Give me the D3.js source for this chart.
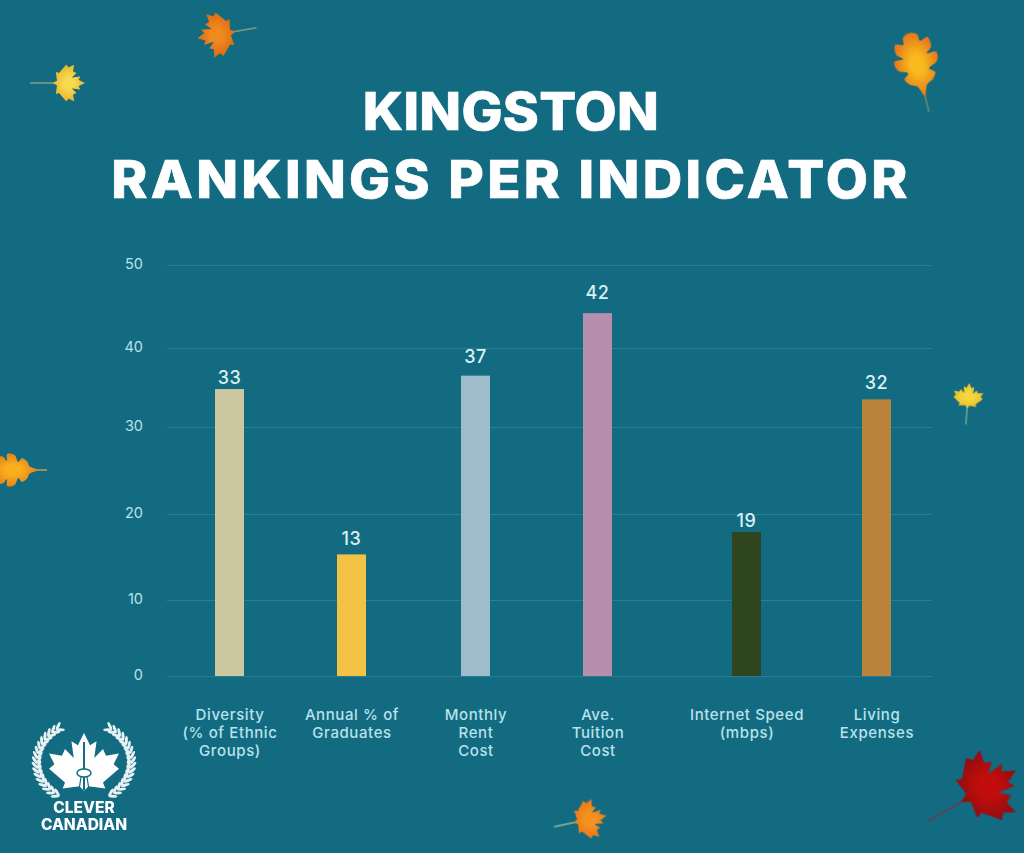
<!DOCTYPE html>
<html lang="en">
<head>
    <meta charset="UTF-8">
    <title>Kingston Rankings Per Indicator</title>
    <style>
        html, body { margin: 0; padding: 0; background: #126b81; }
        svg { display: block; }
        text { font-family: Inter, "Open Sans", sans-serif; }
    </style>
</head>
<body>
    <div id="chartContainer"></div>

    <script src="https://d3js.org/d3.v7.min.js"></script>
    <script>
        // Chart data
        const categories = [
            ["Diversity", "(% of Ethnic", "Groups)"],
            ["Annual % of", "Graduates"],
            ["Monthly", "Rent", "Cost"],
            ["Ave.", "Tuition", "Cost"],
            ["Internet Speed", "(mbps)"],
            ["Living", "Expenses"]
        ];
        const rankLabels = [33, 13, 37, 42, 19, 32];
        // bar heights as drawn, they do not quite agree with the printed ranks
        const barValues = [34.8, 15.3, 36.5, 44.2, 17.9, 33.5];
        const barColors = ["#cbc8a0", "#f2c244", "#9fbccb", "#b68fae", "#2f4520", "#bb843c"];
        const yTicks = [0, 10, 20, 30, 40, 50];

        const width = 1024, height = 853;
        const background = "#126b81", axisText = "#b9e2ea";

        const svg = d3.select("#chartContainer").append("svg")
            .attr("width", width)
            .attr("height", height);

        svg.append("rect").attr("width", width).attr("height", height).attr("fill", background);

        const defs = svg.append("defs");
        defs.append("filter").attr("id", "soft")
            .append("feGaussianBlur").attr("stdDeviation", 0.6);

        // Title, stretched a little since the original face is wider than Inter
        const title = svg.append("g")
            .attr("transform", "translate(511,0) scale(1.05,1)")
            .attr("fill", "#ffffff")
            .attr("stroke", "#ffffff")
            .attr("stroke-width", 0.7)
            .attr("font-weight", 800)
            .attr("font-size", 52)
            .attr("text-anchor", "middle");
        title.append("text").attr("y", 130).attr("letter-spacing", 0.3).text("KINGSTON");
        title.append("text").attr("y", 198).attr("letter-spacing", 3.2).text("RANKINGS PER INDICATOR");

        // The gridlines in the picture are not evenly spaced, so the scale is piecewise
        const y = d3.scaleLinear()
            .domain(yTicks)
            .range([676, 600, 514, 427, 348, 265]);

        // Same for the columns
        const x = d3.scaleLinear()
            .domain(d3.range(categories.length))
            .range([229.5, 351.5, 475.5, 597.5, 746.5, 876.5]);

        const barWidth = 29;
        const labelGaps = [5, 9, 13, 14, 5, 10];

        // Y axis with gridlines
        const yAxis = svg.append("g")
            .attr("transform", "translate(167,0)")
            .call(d3.axisLeft(y).tickValues(yTicks).tickSize(-765).tickPadding(24));
        yAxis.select(".domain").remove();
        yAxis.selectAll("line").attr("stroke", "#2b7e93").attr("stroke-width", 1.2);
        yAxis.selectAll("text")
            .attr("fill", axisText)
            .attr("font-size", 14.5)
            .attr("font-weight", 400)
            .attr("dy", "0.27em")
            .style("font-family", 'Inter, "Open Sans", sans-serif');

        // Bars
        svg.append("g").selectAll("rect")
            .data(barValues)
            .join("rect")
            .attr("x", (d, i) => x(i) - barWidth / 2)
            .attr("y", d => y(d))
            .attr("width", barWidth)
            .attr("height", d => y(0) - y(d))
            .attr("fill", (d, i) => barColors[i]);

        // Rank labels above the bars
        svg.append("g").selectAll("text")
            .data(barValues)
            .join("text")
            .attr("x", (d, i) => x(i))
            .attr("y", (d, i) => y(d) - labelGaps[i])
            .attr("text-anchor", "middle")
            .attr("fill", "#d8f0f4")
            .attr("font-size", 18)
            .attr("font-weight", 500)
            .attr("letter-spacing", 0.5)
            .text((d, i) => rankLabels[i]);

        // Category labels
        const xAxis = svg.append("g")
            .attr("transform", "translate(0,676)")
            .call(d3.axisBottom(x).tickValues(d3.range(categories.length)).tickSize(0).tickFormat(""));
        xAxis.select(".domain").remove();
        xAxis.selectAll("text")
            .attr("fill", axisText)
            .attr("font-size", 15)
            .attr("font-weight", 500)
            .attr("letter-spacing", 0.6)
            .attr("dy", null)
            .attr("y", null)
            .style("font-family", 'Inter, "Open Sans", sans-serif')
            .each(function(d) {
                d3.select(this).selectAll("tspan")
                    .data(categories[d])
                    .join("tspan")
                    .attr("x", 0)
                    .attr("y", (t, i) => 44 + i * 18)
                    .text(t => t);
            });

        // Decorative leaves, outlines in leaf units with the stem pointing down
        const mapleRight = [[0, -1], [.16, -.68], [.33, -.78], [.27, -.34], [.5, -.58], [.58, -.4],
            [.92, -.46], [.78, -.18], [.92, -.06], [.5, .3], [.56, .46], [.12, .4], [0, .62]];
        const mapleLeaf = mapleRight.concat(mapleRight.slice(1, -1).reverse().map(p => [-p[0], p[1]]));
        const oakRight = [[0, -1], [.2, -.92], [.24, -.72], [.46, -.78], [.5, -.5], [.34, -.34], [.6, -.32],
            [.56, -.06], [.3, .08], [.44, .22], [.3, .42], [.14, .5], [0, .8]];
        const oakLeaf = oakRight.concat(oakRight.slice(1, -1).reverse().map(p => [-p[0], p[1]]));

        const leaves = [
            { shape: mapleLeaf, x: 221, y: 34, size: 24, angle: -100, inner: "#f08a1e", outer: "#dc6a14", stem: 1.5, stemColor: "#7f9c7c" },
            { shape: mapleLeaf, x: 65, y: 83, size: 20, angle: 90, inner: "#f6da50", outer: "#e8b52a", stem: 1.75, stemColor: "#7f9c7c" },
            { shape: oakLeaf, x: 918, y: 68, size: 36, angle: -14, inner: "#f8b91e", outer: "#e5761a", stem: 1.25, stemColor: "#6f8a70", oak: true },
            { shape: mapleLeaf, x: 982, y: 790, size: 39, angle: 60, inner: "#c20c10", outer: "#8f0d12", stem: 1.6, stemColor: "#6a3a55" },
            { shape: mapleLeaf, x: 586, y: 820, size: 21, angle: 78, inner: "#f59222", outer: "#e8781a", stem: 1.55, stemColor: "#8fb09c" },
            { shape: oakLeaf, x: 16, y: 470, size: 27, angle: -90, inner: "#f8b01c", outer: "#e8801c", stem: 1.15, stemColor: "#b99a60", oak: true },
            { shape: mapleLeaf, x: 968, y: 399, size: 16, angle: 5, inner: "#f5d63c", outer: "#e8be2c", stem: 1.6, stemColor: "#6fa08c" }
        ];

        const leafLine = d3.line();
        const oakLine = d3.line().curve(d3.curveCatmullRomClosed);

        const leafGroup = svg.append("g").attr("filter", "url(#soft)");
        leaves.forEach((leaf, i) => {
            const gradient = defs.append("radialGradient").attr("id", "leaf" + i);
            gradient.append("stop").attr("offset", "30%").attr("stop-color", leaf.inner);
            gradient.append("stop").attr("offset", "100%").attr("stop-color", leaf.outer);

            const g = leafGroup.append("g")
                .attr("transform", `translate(${leaf.x},${leaf.y}) rotate(${leaf.angle}) scale(${leaf.size})`);
            g.append("path")
                .attr("d", `M0,0.4L0,${leaf.stem}`)
                .attr("fill", "none")
                .attr("stroke", leaf.stemColor)
                .attr("stroke-width", 1.6 / leaf.size);
            g.append("path")
                .attr("d", leaf.oak ? oakLine(leaf.shape) : leafLine(leaf.shape) + "Z")
                .attr("fill", `url(#leaf${i})`);
        });

        // Clever Canadian logo
        const logo = svg.append("g").attr("transform", "translate(84,762)");
        const logoLeaf = mapleLeaf.map(p => [p[0], Math.min(p[1], .52)]);
        logo.append("path")
            .attr("transform", "translate(0,9) scale(38)")
            .attr("d", leafLine(logoLeaf) + "Z")
            .attr("fill", "#ffffff");
        // tower
        logo.append("path")
            .attr("d", "M0,-20L0,28")
            .attr("stroke", background)
            .attr("stroke-width", 2);
        logo.append("ellipse")
            .attr("cy", 11).attr("rx", 7).attr("ry", 4)
            .attr("fill", "#ffffff").attr("stroke", background).attr("stroke-width", 1.5);
        logo.append("path")
            .attr("d", "M-3,15L-5,28M3,15L5,28")
            .attr("stroke", background)
            .attr("stroke-width", 1.2);
        // laurels, two rows of leaflets along an elliptical branch
        [-1, 1].forEach(side => {
            const branch = logo.append("g").attr("transform", `scale(${side},1)`);
            d3.range(-54, 60, 7).forEach(t => {
                const a = (t * Math.PI) / 180;
                const px = 47 * Math.cos(a);
                const py = 40 * Math.sin(a);
                const tangent = (Math.atan2(-40 * Math.cos(a), 47 * Math.sin(a)) * 180) / Math.PI;
                [-32, 32].forEach(spread => {
                    branch.append("ellipse")
                        .attr("cx", 4).attr("cy", 0)
                        .attr("rx", 4.4).attr("ry", 1.5)
                        .attr("transform", `translate(${px},${py}) rotate(${tangent + spread})`)
                        .attr("fill", "#e8f2f4");
                });
            });
        });

        const logoText = svg.append("g")
            .attr("fill", "#ffffff")
            .attr("text-anchor", "middle")
            .attr("font-weight", 800)
            .attr("font-size", 15.5);
        logoText.append("text").attr("x", 84).attr("y", 813).text("CLEVER");
        logoText.append("text").attr("x", 84).attr("y", 830).text("CANADIAN");
    </script>
</body>
</html>
